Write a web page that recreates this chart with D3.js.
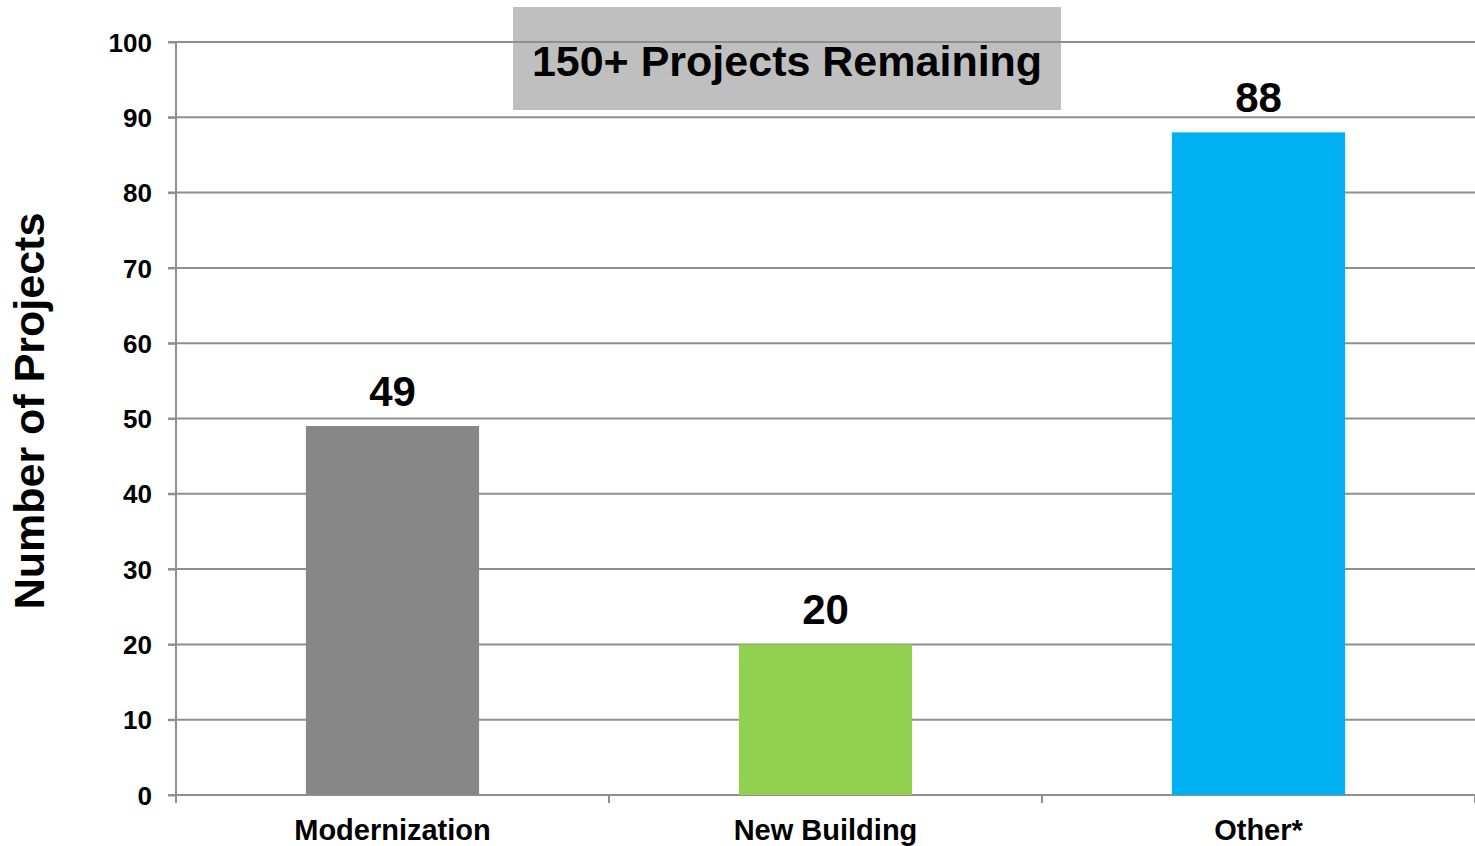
<!DOCTYPE html>
<html>
<head>
<meta charset="utf-8">
<script src="https://cdn.jsdelivr.net/npm/d3@7"></script>
<style>
  body { margin: 0; background: #fff; }
  text { font-family: "Liberation Sans", Arial, sans-serif; font-weight: bold; fill: #000; }
</style>
</head>
<body>
<div id="chart"></div>
<script>
// Chart data
const categories = ["Modernization", "New Building", "Other*"];
const projectCounts = [49, 20, 88];
const barColors = ["#878787", "#92d050", "#00b0f0"];
const yTicks = [0, 10, 20, 30, 40, 50, 60, 70, 80, 90, 100];
const titleText = "150+ Projects Remaining";
const yLabel = "Number of Projects";

const data = categories.map((c, i) => ({category: c, value: projectCounts[i], color: barColors[i]}));

// Dimensions
const margin = {top: 42, right: 0, bottom: 51, left: 176},
    width = 1475 - margin.left - margin.right,
    height = 846 - margin.top - margin.bottom;

const svg = d3.select("#chart")
    .append("svg")
    .attr("width", width + margin.left + margin.right)
    .attr("height", height + margin.top + margin.bottom)
    .append("g")
    .attr("transform", `translate(${margin.left},${margin.top})`);

// Scales
const xScale = d3.scaleBand()
    .domain(categories)
    .range([0, width])
    .padding(0);

const yScale = d3.scaleLinear()
    .domain([0, 100])
    .range([height, 0]);

const gridColor = "#8f8f8f";

// Title box (sits behind the gridlines)
svg.append("rect")
    .attr("x", 337)
    .attr("y", -35)
    .attr("width", 548)
    .attr("height", 103)
    .attr("fill", "#bfbfbf");

svg.append("text")
    .attr("x", 611)
    .attr("y", 34)
    .attr("text-anchor", "middle")
    .style("font-size", "43px")
    .text(titleText);

// Gridlines
svg.append("g")
    .selectAll("line")
    .data(yTicks)
    .enter().append("line")
    .attr("x1", -8)
    .attr("x2", width)
    .attr("y1", d => yScale(d))
    .attr("y2", d => yScale(d))
    .attr("stroke", gridColor)
    .attr("stroke-width", 2);

// Bars
const barWidth = xScale.bandwidth() * 0.4;
svg.selectAll(".bar")
    .data(data)
    .enter().append("rect")
    .attr("class", "bar")
    .attr("x", d => xScale(d.category) + (xScale.bandwidth() - barWidth) / 2)
    .attr("width", barWidth)
    .attr("y", d => yScale(d.value))
    .attr("height", d => yScale(0) - yScale(d.value))
    .attr("fill", d => d.color);

// Value labels
svg.selectAll(".value")
    .data(data)
    .enter().append("text")
    .attr("class", "value")
    .attr("x", d => xScale(d.category) + xScale.bandwidth() / 2)
    .attr("y", d => yScale(d.value) - 20)
    .attr("text-anchor", "middle")
    .style("font-size", "42px")
    .text(d => d.value);

// Y axis
const yAxis = svg.append("g")
    .call(d3.axisLeft(yScale).tickValues(yTicks).tickSize(8).tickPadding(16));
yAxis.select(".domain").remove();
yAxis.selectAll(".tick line").attr("stroke", gridColor).attr("stroke-width", 2);
yAxis.selectAll(".tick text")
    .style("font-size", "26px")
    .attr("dy", "0.35em");

svg.append("line")
    .attr("x1", 0).attr("x2", 0)
    .attr("y1", 0).attr("y2", height + 8)
    .attr("stroke", gridColor)
    .attr("stroke-width", 2);

// X axis tick marks at band boundaries
const xBounds = categories.map(c => xScale(c)).concat([xScale.range()[1]]);
svg.append("g")
    .selectAll("line")
    .data(xBounds.slice(1))
    .enter().append("line")
    .attr("x1", d => d).attr("x2", d => d)
    .attr("y1", height).attr("y2", height + 8)
    .attr("stroke", gridColor)
    .attr("stroke-width", 2);

// Category labels
svg.selectAll(".cat")
    .data(categories)
    .enter().append("text")
    .attr("class", "cat")
    .attr("x", d => xScale(d) + xScale.bandwidth() / 2)
    .attr("y", height + 45)
    .attr("text-anchor", "middle")
    .style("font-size", "29px")
    .text(d => d);

// Y-axis label
svg.append("text")
    .attr("transform", "rotate(-90)")
    .attr("x", -(411 - margin.top))
    .attr("y", -132)
    .attr("text-anchor", "middle")
    .style("font-size", "43px")
    .text(yLabel);
</script>
</body>
</html>
